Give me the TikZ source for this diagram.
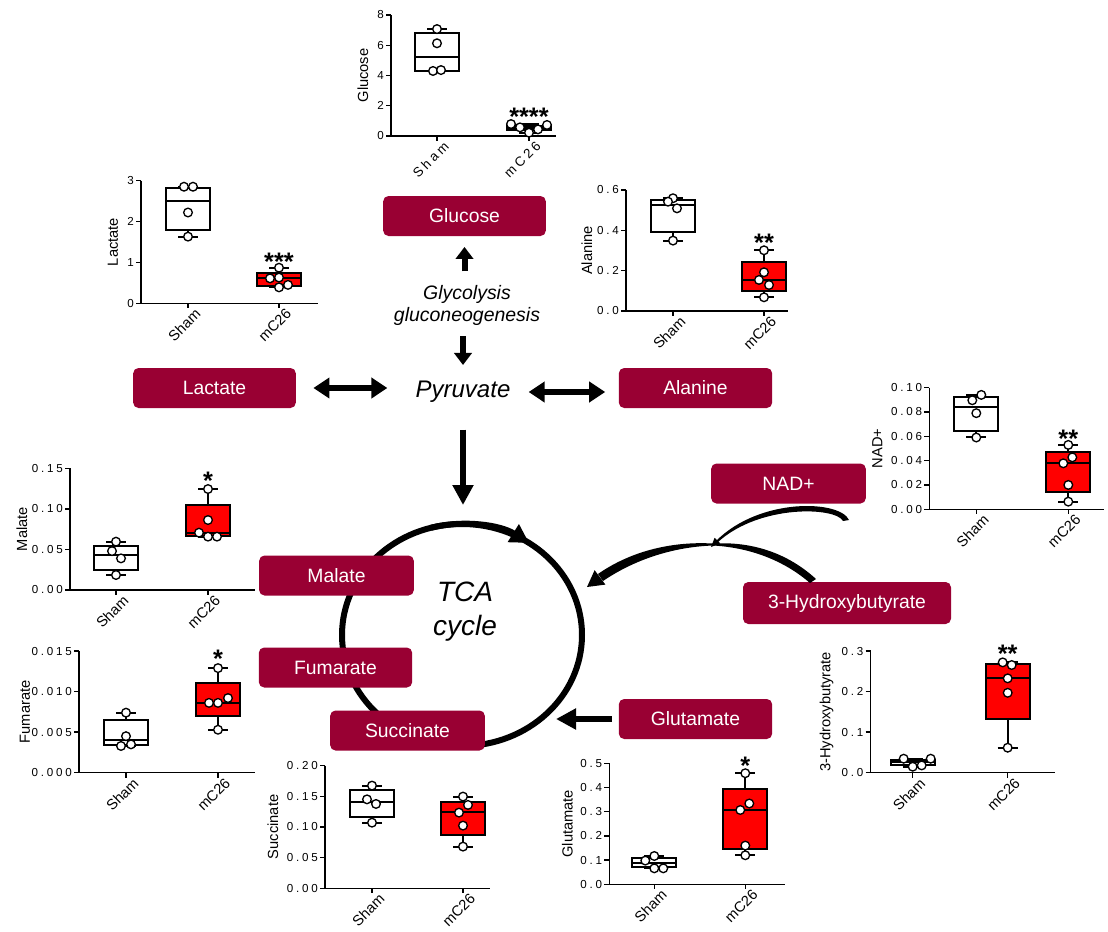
\documentclass[tikz,border=0pt]{standalone}
\usepackage{fontspec}
\setmainfont{Liberation Sans}
\newfontfamily\spaced[LetterSpace=24]{Liberation Sans}
\usetikzlibrary{arrows.meta}

\definecolor{wine}{RGB}{153,0,51}

\tikzset{
  met/.style={fill=wine, text=white, rounded corners=4pt, minimum height=30pt, inner sep=0pt, font=\fontsize{14.5}{16}\selectfont},
  axis/.style={line width=1.1pt},
  whisk/.style={line width=1.5pt},
  dot/.style={circle, draw, fill=white, line width=1pt, minimum size=6.5pt, inner sep=0pt},
  ticklab/.style={anchor=east, inner sep=0pt, font=\spaced\fontsize{8.7}{9}\selectfont},
  ytitle/.style={rotate=90, inner sep=0pt, font=\fontsize{11}{12}\selectfont},
  xlab/.style={rotate=45, anchor=north east, inner sep=0pt, font=\fontsize{11}{12}\selectfont},
  stars/.style={anchor=north, inner sep=0pt, font=\fontsize{19}{19}\bfseries},
  fat/.style={line width=4.5pt},
}

% axes of one plot: length, top value, ticks, title, title offset
\newcommand{\plotaxes}[5]{%
  \draw[axis] ({0},{-#2*\ky}) -- (0,0) -- (#1,0);
  \foreach \v/\t in {#3} {
    \draw[axis] ({-5},{-\v*\ky}) -- ({0},{-\v*\ky});
    \node[ticklab] at ({-7},{-\v*\ky}) {\t};
  }
  \node[ytitle] at ({-#5},{-#2*\ky/2}) {#4};
}
% group tick and label
\newcommand{\plotcat}[2]{%
  \draw[axis] (#1,0) -- (#1,5);
  \node[xlab] at ({#1+6},4) {#2};
}
% box: x, low, q1, median, q3, high, fill, points
\newcommand{\plotbox}[8]{%
  \draw[whisk] ({#1},{-#2*\ky}) -- ({#1},{-#6*\ky});
  \draw[whisk] ({#1-10},{-#2*\ky}) -- ({#1+10},{-#2*\ky}) ({#1-10},{-#6*\ky}) -- ({#1+10},{-#6*\ky});
  \draw[whisk, fill=#7] ({#1-22},{-#3*\ky}) rectangle ({#1+22},{-#5*\ky});
  \draw[whisk] ({#1-22},{-#4*\ky}) -- ({#1+22},{-#4*\ky});
  \foreach \dx/\v in {#8} \node[dot] at ({#1+\dx},{-\v*\ky}) {};
}

\begin{document}
\begin{tikzpicture}[x=0.75pt, y=-0.75pt]
\useasboundingbox (0,0) rectangle (1108,932);

% TCA ring
\draw[line width=4.5pt] (462,635) ellipse [x radius=120, y radius=111];
\draw[line width=4.5pt, -{Triangle[length=14pt,width=15pt]}] (462,635) ++(-105:120 and 111)
  arc[start angle=-105, end angle=-56, x radius=120, y radius=111];

% metabolites
\node[met, minimum width=122pt] (glu) at (464.5,216) {Glucose};
\node[met, minimum width=122pt] (lac) at (214.5,388) {Lactate};
\node[met, minimum width=115pt] (ala) at (695.5,388) {Alanine};
\node[met, minimum width=116pt] (nad) at (788.5,483.5) {NAD+};
\node[met, minimum width=156pt, minimum height=31.5pt] (hb) at (847,603) {3-Hydroxybutyrate};
\node[met, minimum width=116pt] (mal) at (336.5,575.5) {Malate};
\node[met, minimum width=115pt] (fum) at (335.5,667.5) {Fumarate};
\node[met, minimum width=116pt] (suc) at (407.5,730.5) {Succinate};
\node[met, minimum width=115pt] (glut) at (695.5,719) {Glutamate};

\node[font=\fontsize{14.6}{16.5}\selectfont\itshape, align=center, inner sep=0pt] (glyc) at (467,305) {Glycolysis\\gluconeogenesis};
\node[font=\fontsize{18}{20}\selectfont\itshape, inner sep=0pt] (pyr) at (463,392) {Pyruvate};
\node[font=\fontsize{21}{25.5}\selectfont\itshape, align=center, inner sep=0pt] (tca) at (465,612) {TCA\\cycle};

% arrows
\draw[fat, -{Triangle[length=9pt,width=13pt]}, shorten <=10pt, shorten >=8pt] (glyc.north -| glu.south) -- (glu.south);
\draw[fat, -{Triangle[length=9pt,width=13pt]}, shorten <=8pt, shorten >=12pt] (glyc.south -| pyr.north) -- (pyr.north);
\draw[fat, {Triangle[length=12pt,width=15pt]}-{Triangle[length=12pt,width=15pt]}, shorten <=13pt, shorten >=21pt] (lac.east) -- (lac.east -| pyr.west);
\draw[fat, {Triangle[length=12pt,width=15pt]}-{Triangle[length=12pt,width=15pt]}, shorten <=13.5pt, shorten >=10pt] (pyr.east) -- (pyr.east -| ala.west);
\coordinate (ringtop) at (463,505);
\draw[fat, -{Triangle[length=15pt,width=15pt]}, shorten <=20pt] (pyr.south) -- (ringtop);
\coordinate (ringin) at (556,719);
\draw[fat, -{Triangle[length=15pt,width=15pt]}, shorten <=5pt] (glut.west) -- (ringin);

% tapered arrow from 3-hydroxybutyrate into the cycle
\coordinate (apex) at (713,544.5);
\fill (apex) ++(0,-1) .. controls (668,541) and (628,553) .. (598,574) -- (603,581)
  .. controls (634,560) and (672,547) .. (713,545.5) -- cycle;
\fill (apex) ++(0,-1) .. controls (758,541) and (792,557) .. (816,579) -- (810,583)
  .. controls (788,564) and (756,548) .. (713,545.5) -- cycle;
\fill (587,587) -- (594.6,570.2) -- (605.4,584.6) -- cycle;
% NAD+ joins it
\fill (849,520) .. controls (840,500) and (760,497) .. (716,541) -- (718,542)
  .. controls (760,504) and (836,507) .. (843,521) -- cycle;
\fill (711,547) -- (714.6,537.8) -- (720.2,543.4) -- cycle;

% glucose
\begin{scope}[shift={(391,136)}]
\def\ky{15.125}
\plotaxes{165}{8}{0/0,2/2,4/4,6/6,8/8}{Glucose}{28}
\plotcat{46}{\spaced\fontsize{10}{11}\selectfont Sham}
\plotcat{138}{\spaced\fontsize{10}{11}\selectfont mC26}
\plotbox{46}{4.3}{4.32}{5.25}{6.79}{7.07}{white}{0/7.07,0/6.13,-4/4.3,4/4.36}
\plotbox{138}{0.22}{0.40}{0.55}{0.68}{0.79}{red}{-18/0.79,-9/0.57,0/0.22,9/0.44,18/0.73}
\node[stars] at (138,{-1.85*\ky}) {****};
\end{scope}

% lactate
\begin{scope}[shift={(141,303.3)}]
\def\ky{40.9}
\plotaxes{177}{3}{0/0,1/1,2/2,3/3}{Lactate}{28}
\plotcat{47}{Sham}
\plotcat{138}{mC26}
\plotbox{47}{1.63}{1.79}{2.51}{2.83}{2.85}{white}{-4/2.85,5/2.85,0/2.22,0/1.63}
\plotbox{138}{0.39}{0.42}{0.63}{0.73}{0.87}{red}{0/0.87,-9/0.61,0/0.63,0/0.39,9/0.45}
\node[stars] at (138,{-1.23*\ky}) {***};
\end{scope}

% alanine
\begin{scope}[shift={(626,311)}]
\def\ky{201.7}
\plotaxes{162}{0.6}{0/0.0,0.2/0.2,0.4/0.4,0.6/0.6}{Alanine}{39}
\plotcat{47}{Sham}
\plotcat{138}{mC26}
\plotbox{47}{0.349}{0.393}{0.526}{0.55}{0.559}{white}{0/0.559,-5/0.542,4/0.509,0/0.349}
\plotbox{138}{0.068}{0.099}{0.154}{0.245}{0.301}{red}{0/0.301,0/0.192,-5/0.154,5/0.129,0/0.068}
\node[stars] at (138,{-0.382*\ky}) {**};
\end{scope}

% NAD+
\begin{scope}[shift={(929.3,509.3)}]
\def\ky{1217}
\plotaxes{175}{0.1}{0/0.00,0.02/0.02,0.04/0.04,0.06/0.06,0.08/0.08,0.1/0.10}{NAD+}{52}
\plotcat{47}{Sham}
\plotcat{139}{mC26}
\plotbox{47}{0.059}{0.0647}{0.0844}{0.092}{0.094}{white}{5/0.094,-4/0.0896,0/0.079,0/0.059}
\plotbox{139}{0.0063}{0.014}{0.0378}{0.0468}{0.0529}{red}{0/0.0529,4/0.0427,-5/0.0378,0/0.02,0/0.0063}
\node[stars] at (139,{-0.0657*\ky}) {**};
\end{scope}

% malate
\begin{scope}[shift={(70,590)}]
\def\ky{811}
\plotaxes{185}{0.15}{0/0.00,0.05/0.05,0.1/0.10,0.15/0.15}{Malate}{48}
\plotcat{46}{Sham}
\plotcat{138}{mC26}
\plotbox{46}{0.0185}{0.0247}{0.0432}{0.0547}{0.0596}{white}{0/0.0596,-4/0.048,5/0.039,0/0.0185}
\plotbox{138}{0.0658}{0.0666}{0.0707}{0.1048}{0.1245}{red}{0/0.1245,0/0.0863,-9/0.0707,0/0.0658,9/0.0658}
\node[stars] at (138,{-0.146*\ky}) {*};
\end{scope}

% fumarate
\begin{scope}[shift={(79,772.7)}]
\def\ky{8113}
\plotaxes{176}{0.015}{0/0.000,0.005/0.005,0.01/0.010,0.015/0.015}{Fumarate}{54}
\plotcat{47}{Sham}
\plotcat{139}{mC26}
\plotbox{47}{0.0033}{0.0034}{0.004}{0.0065}{0.0074}{white}{0/0.0074,0/0.0045,-5/0.0033,5/0.0035}
\plotbox{139}{0.0053}{0.007}{0.0086}{0.011}{0.0129}{red}{0/0.0129,-9/0.0086,0/0.0086,10/0.0092,0/0.0053}
\node[stars] at (139,{-0.0151*\ky}) {*};
\end{scope}

% succinate
\begin{scope}[shift={(325,888.3)}]
\def\ky{613.5}
\plotaxes{165}{0.2}{0/0.00,0.05/0.05,0.1/0.10,0.15/0.15,0.2/0.20}{Succinate}{52}
\plotcat{47}{Sham}
\plotcat{138}{mC26}
\plotbox{47}{0.107}{0.1158}{0.1413}{0.1603}{0.1674}{white}{0/0.1674,-5/0.145,4/0.1375,0/0.107}
\plotbox{138}{0.068}{0.0864}{0.1239}{0.1413}{0.1495}{red}{0/0.1495,5/0.1359,-4/0.1234,0/0.1022,0/0.068}
\end{scope}

% glutamate
\begin{scope}[shift={(609.3,884.3)}]
\def\ky{242}
\plotaxes{176}{0.5}{0/0.0,0.1/0.1,0.2/0.2,0.3/0.3,0.4/0.4,0.5/0.5}{Glutamate}{42}
\plotcat{45}{Sham}
\plotcat{136}{mC26}
\plotbox{45}{0.066}{0.07}{0.087}{0.107}{0.117}{white}{0/0.117,-9/0.098,0/0.066,9/0.066}
\plotbox{136}{0.12}{0.145}{0.307}{0.394}{0.459}{red}{0/0.459,4/0.334,-5/0.307,0/0.16,0/0.12}
\node[stars] at (136,{-0.527*\ky}) {*};
\end{scope}

% 3-hydroxybutyrate
\begin{scope}[shift={(870.7,772.7)}]
\def\ky{405.6}
\plotaxes{184}{0.3}{0/0.0,0.1/0.1,0.2/0.2,0.3/0.3}{3-Hydroxybutyrate}{44}
\plotcat{42}{Sham}
\plotcat{137}{mC26}
\plotbox{42}{0.0148}{0.018}{0.0255}{0.032}{0.0345}{white}{-9/0.0345,0/0.0148,9/0.018,18/0.0345}
\plotbox{137}{0.0616}{0.1315}{0.2326}{0.267}{0.272}{red}{-5/0.272,4/0.2655,0/0.2326,0/0.197,0/0.0616}
\node[stars] at (137,{-0.315*\ky}) {**};
\end{scope}

\end{tikzpicture}
\end{document}
